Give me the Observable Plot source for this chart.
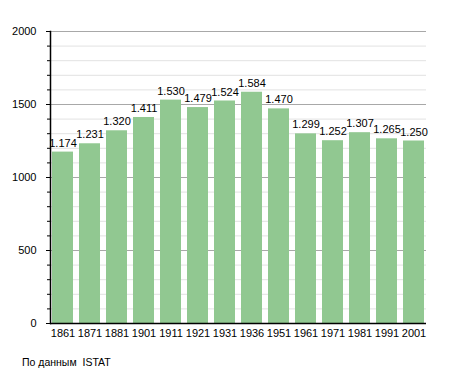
<!DOCTYPE html>
<html>
<head>
<meta charset="utf-8">
<script src="https://cdn.jsdelivr.net/npm/d3@7"></script>
<script src="https://cdn.jsdelivr.net/npm/@observablehq/plot@0.6"></script>
<style>
  body { margin: 0; background: #fff; font-family: "Liberation Sans", Arial, sans-serif; }
  #wrap { position: relative; width: 455px; height: 373px; }
  #caption { position: absolute; left: 22px; top: 356px; font-size: 10.5px; color: #000; }
</style>
</head>
<body>
<div id="wrap">
  <div id="chart"></div>
  <div id="caption">По данным&nbsp; ISTAT</div>
</div>
<script>
const years = ["1861","1871","1881","1901","1911","1921","1931","1936","1951","1961","1971","1981","1991","2001"];
const population = [1174,1231,1320,1411,1530,1479,1524,1584,1470,1299,1252,1307,1265,1250];
const yTicks = [0, 500, 1000, 1500, 2000];

const data = years.map((y, i) => ({year: y, pop: population[i]}));
const fmt = d3.formatLocale({decimal: ",", thousands: ".", grouping: [3], currency: ["", ""]}).format(",d");
const minor = d3.range(0, 2001, 100);

const chart = Plot.plot({
  width: 455,
  height: 345,
  marginLeft: 50,
  marginRight: 29,
  marginTop: 31,
  marginBottom: 22,
  style: {fontFamily: "Liberation Sans, Arial, sans-serif", fontSize: "11px", color: "#000", background: "#fff"},
  x: {domain: years, paddingInner: 0.23, paddingOuter: 0.02, label: null},
  y: {domain: [0, 2000], label: null},
  marks: [
    Plot.ruleY(minor.filter(v => v % 500 !== 0), {stroke: "#e2e2e2", strokeWidth: 1, strokeOpacity: 1}),
    Plot.ruleY(yTicks, {stroke: "#a8a8a8", strokeWidth: 1, strokeOpacity: 1}),
    Plot.barY(data, {x: "year", y: "pop", fill: "#91c891"}),
    Plot.text(data, {x: "year", y: "pop", text: d => fmt(d.pop), dy: -9, fontSize: 11, fill: "#000"}),
    Plot.axisY(minor.filter(v => v % 500 !== 0), {tickSize: 3, tickFormat: () => "", stroke: "#000"}),
    Plot.axisY(yTicks, {tickSize: 4, tickPadding: 10, tickFormat: d => String(d), fontSize: 11, label: null}),
    Plot.axisX({tickSize: 0, tickPadding: 6, fontSize: 11, label: null}),
    Plot.ruleY([0], {stroke: "#000", strokeWidth: 1.5}),
    Plot.frame({anchor: "left", stroke: "#000", strokeWidth: 1.5})
  ]
});
document.getElementById("chart").appendChild(chart);
</script>
</body>
</html>
